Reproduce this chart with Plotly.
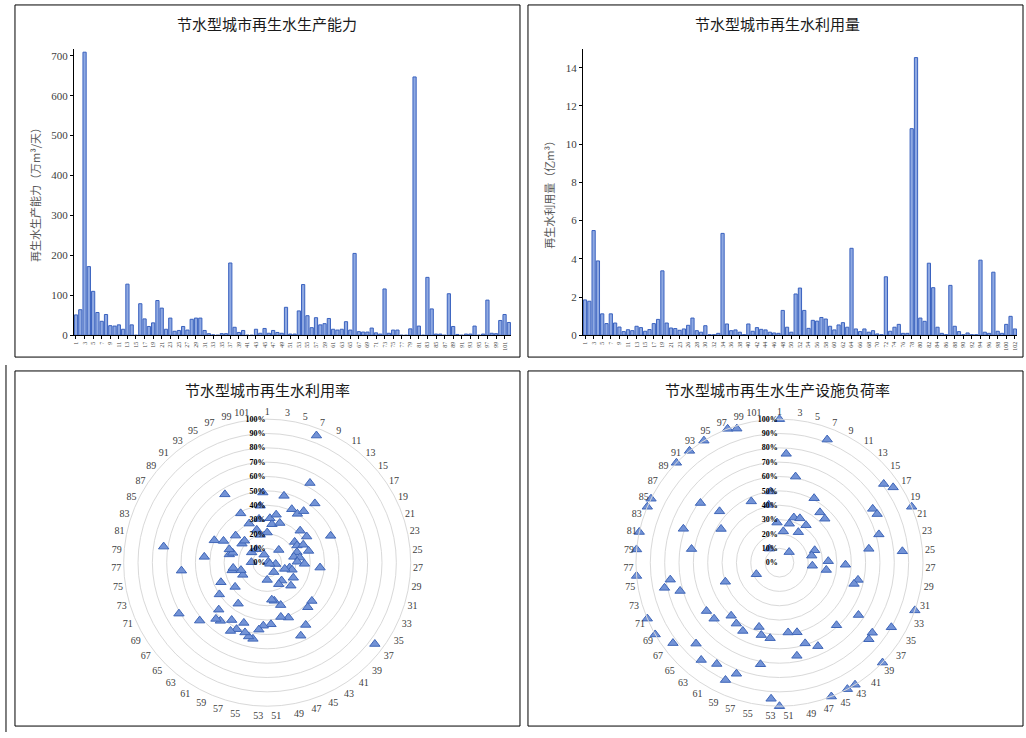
import plotly.graph_objects as go

W, H = 1026, 738

# ---------------- data ----------------
capacity_cities = [str(i) for i in range(1, 103)]
capacity = [51, 64, 709, 172, 110, 57, 35, 52, 24, 23, 26, 15, 128, 26, 0, 79, 41, 22, 31, 87,
            68, 15, 43, 10, 12, 22, 13, 40, 43, 43, 12, 4, 1, 0, 4, 4, 181, 20, 7, 12,
            0, 0, 15, 5, 17, 5, 12, 7, 5, 70, 3, 3, 61, 127, 49, 19, 44, 26, 29, 42,
            15, 13, 15, 34, 13, 205, 9, 8, 8, 18, 6, 3, 116, 5, 13, 13, 0, 0, 16, 647,
            23, 0, 145, 66, 3, 3, 0, 104, 22, 2, 0, 3, 3, 23, 0, 3, 88, 5, 4, 37,
            52, 32]

usage_cities = [str(i) for i in range(1, 25)] + [str(i) for i in range(26, 103)]
usage = [1.85, 1.78, 5.48, 3.89, 1.12, 0.61, 1.12, 0.64, 0.43, 0.19, 0.29, 0.24, 0.47, 0.40, 0.21,
         0.30, 0.61, 0.83, 3.37, 0.64, 0.38, 0.35, 0.26, 0.33, 0.52, 0.90, 0.24, 0.16, 0.50, 0.03,
         0.03, 0.10, 5.33, 0.59, 0.24, 0.28, 0.16, 0.03, 0.59, 0.21, 0.40, 0.31, 0.28, 0.16, 0.12,
         0.10, 1.30, 0.42, 0.16, 2.16, 2.47, 1.30, 0.36, 0.78, 0.74, 0.93, 0.85, 0.47, 0.28, 0.54,
         0.66, 0.42, 4.55, 0.33, 0.19, 0.33, 0.16, 0.24, 0.07, 0.03, 3.06, 0.21, 0.42, 0.57, 0.10,
         0.10, 10.81, 14.53, 0.90, 0.73, 3.77, 2.49, 0.42, 0.10, 0.03, 2.61, 0.47, 0.19, 0.03, 0.12,
         0.03, 0.03, 3.93, 0.16, 0.10, 3.30, 0.21, 0.10, 0.57, 0.99, 0.33]

radar_cities = list(range(1, 103))
reuse_rate = [21, 31, 27, 34, 48, 29, 95, 41, 63, 40, 44, 53, 12, 32, 1, 24, 33, 24, 28, 48,
              22, 30, 19, 23, None, 21, 26, 37, 6, 16, 18, 13, 2, None, 21, None, 94, 41, 23, 42,
              16, 8, 51, 17, 56, 41, 31, 39, 27, 26, 43, 12, 44, 47, 54, 53, 51, 45, 51, 54,
              47, 35, 52, 53, 47, 62, 28, 40, 71, 19, 35, None, 19, 25, 24, 60, None, 11, 44, 73,
              27, 25, 28, 40, 34, None, 13, 22, 29, 22, None, 12, None, 56, 39, 30, 6, 24, 20, 31,
              40, 49]
load_rate = [100, 76, 22, 61, 28, 33, 92, 34, 51, 25, 32, 45, 10, 44, None, 91, 95, 75, 76, 100,
             26, 72, 23, 63, 86, 34, 46, 23, 33, 56, 54, 100, None, None, 90, 66, 81, 82, 100, 59,
             None, None, 100, 100, 64, 100, 59, 50, 66, 49, None, 100, 95, 53, 72, 52, 47, 83, 90, 54,
             83, 52, 87, 50, 81, 60, 93, 61, 100, 18, 100, 40, 72, 82, 77, 100, None, None, 100, 62,
             100, None, 71, 100, 100, 47, None, 69, 55, 100, None, 100, 12, 100, None, 47, 100, 98, None, 41,
             50, 28]
ring_vals = [i / 10 for i in range(11)]
ring_text = [f"{i * 10}%" for i in range(11)]

# ---------------- helpers ----------------
def px(x):
    return x / W

def py(y):
    return 1 - y / H

BAR_FILL = "#8FA9E2"
BAR_LINE = "#3A62BF"
SERIF = "Liberation Serif, Times New Roman, serif"
CJK = "Noto Sans CJK SC, sans-serif"

fig = go.Figure()

fig.add_trace(go.Bar(x=capacity_cities, y=capacity, xaxis="x", yaxis="y",
                     marker=dict(color=BAR_FILL, line=dict(color=BAR_LINE, width=1)),
                     showlegend=False))
fig.add_trace(go.Bar(x=usage_cities, y=usage, xaxis="x2", yaxis="y2",
                     marker=dict(color=BAR_FILL, line=dict(color=BAR_LINE, width=1)),
                     showlegend=False))

n = len(radar_cities)
theta = [(c - 1) * 360 / n for c in radar_cities]
tri = dict(symbol="triangle-up", size=9, color="#7393D6", line=dict(color="#3F66B8", width=1))
fig.add_trace(go.Scatterpolar(r=[v / 100 if v is not None else None for v in reuse_rate],
                              theta=theta, thetaunit="degrees", mode="markers", marker=tri,
                              subplot="polar", showlegend=False))
fig.add_trace(go.Scatterpolar(r=[v / 100 if v is not None else None for v in load_rate],
                              theta=theta, thetaunit="degrees", mode="markers", marker=tri,
                              subplot="polar2", showlegend=False))

odd_theta = [(c - 1) * 360 / n for c in radar_cities if c % 2 == 1]
odd_text = [str(c) for c in radar_cities if c % 2 == 1]

def polar_layout(cx):
    r = 144.7
    cy = 567.3
    return dict(
        domain=dict(x=[px(cx - r), px(cx + r)], y=[py(cy + r), py(cy - r)]),
        bgcolor="white",
        radialaxis=dict(range=[0, 1], tickvals=ring_vals, ticktext=ring_text, angle=90, tickangle=90,
                        side="counterclockwise", showline=False, ticks="",
                        gridcolor="#D9D9D9", gridwidth=1,
                        tickfont=dict(family=SERIF, size=8, color="#000000", weight="bold")),
        angularaxis=dict(rotation=90, direction="clockwise", thetaunit="degrees",
                         tickvals=odd_theta, ticktext=odd_text, showgrid=False, ticks="",
                         linecolor="#D9D9D9", linewidth=1,
                         tickfont=dict(family=SERIF, size=10, color="#404040")),
    )

axis_common = dict(showline=True, linecolor="#000000", linewidth=1, ticks="outside", ticklen=3,
                   tickcolor="#000000", showgrid=False, zeroline=False)

fig.update_layout(
    width=W, height=H, margin=dict(l=0, r=0, t=0, b=0),
    paper_bgcolor="white", plot_bgcolor="white", bargap=0.25, hovermode=False,
    xaxis=dict(domain=[px(73), px(511)], anchor="y", type="category",
               tickvals=capacity_cities[::2], tickangle=-90,
               tickfont=dict(family=SERIF, size=6, color="#404040"), **axis_common),
    yaxis=dict(domain=[py(338), py(49)], anchor="x", range=[0, 718], dtick=100,
               tickfont=dict(family=SERIF, size=11, color="#404040"),
               title=dict(text="再生水生产能力（万m³/天）", standoff=8,
                          font=dict(family=CJK, size=11, color="#595959")),
               **axis_common),
    xaxis2=dict(domain=[px(583), px(1018)], anchor="y2", type="category",
                tickvals=usage_cities[::2], tickangle=-90,
                tickfont=dict(family=SERIF, size=6, color="#404040"), **axis_common),
    yaxis2=dict(domain=[py(338), py(49)], anchor="x2", range=[0, 15], dtick=2,
                tickfont=dict(family=SERIF, size=11, color="#404040"),
                title=dict(text="再生水利用量（亿m³）", standoff=8,
                           font=dict(family=CJK, size=11, color="#595959")),
                **axis_common),
    polar=polar_layout(266.7),
    polar2=polar_layout(780),
)

titles = [("节水型城市再生水生产能力", 267, 24), ("节水型城市再生水利用量", 778, 24),
          ("节水型城市再生水利用率", 267, 393), ("节水型城市再生水生产设施负荷率", 778, 393)]
for t, x, y in titles:
    fig.add_annotation(text=t, x=px(x), y=py(y), xref="paper", yref="paper", showarrow=False,
                       xanchor="center", yanchor="middle",
                       font=dict(family=CJK, size=15, color="#1a1a1a"))

boxes = [(14, 5, 520, 360), (528, 5, 1024, 360), (14, 374, 520, 732), (528, 374, 1024, 732)]
for x0, y0, x1, y1 in boxes:
    fig.add_shape(type="rect", xref="paper", yref="paper", x0=px(x0), x1=px(x1), y0=py(y1), y1=py(y0),
                  line=dict(color="#000000", width=1))
fig.add_shape(type="line", xref="paper", yref="paper", x0=px(5), x1=px(5), y0=0, y1=py(368),
              line=dict(color="#000000", width=1))

fig.write_html("out.html", config={"displayModeBar": False},
               post_script="document.body.style.margin='0';")
